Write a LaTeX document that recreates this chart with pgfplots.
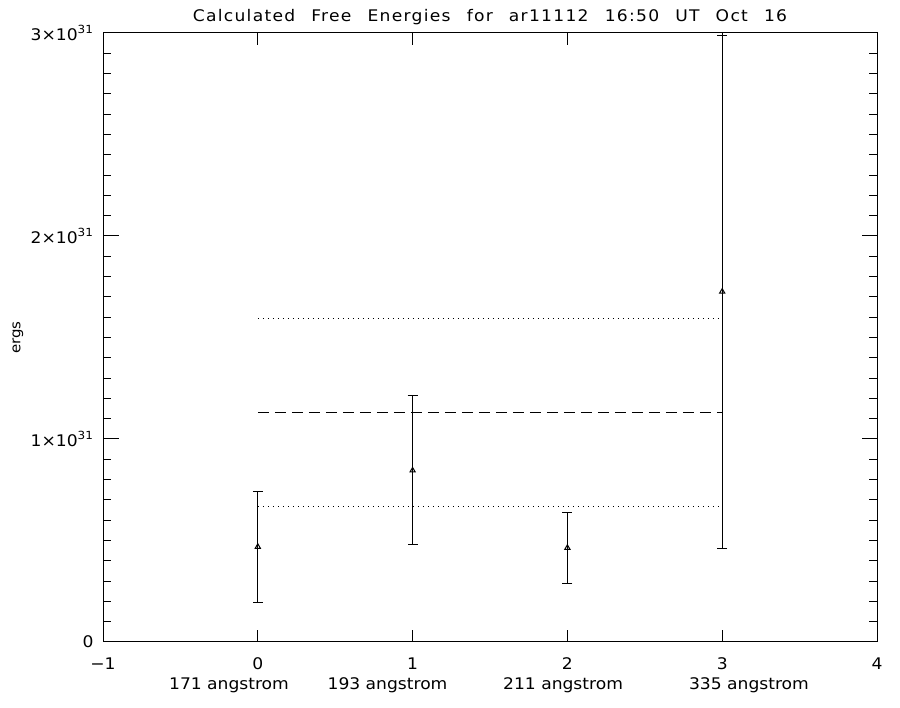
\documentclass[border=0pt]{standalone}
\usepackage{fontspec}
\setmainfont[FakeStretch=1.07]{DejaVu Sans}
\newfontfamily\titlefont[FakeStretch=1.07,LetterSpace=8,WordSpace=2.4]{DejaVu Sans}
\usepackage{pgfplots}
\pgfplotsset{compat=1.18}
\pgfplotsset{
  base/.style={
    at={(103pt,66pt)}, anchor=south west, scale only axis,
    width=774pt, height=609pt,
    xmin=-1, xmax=4, ymin=0, ymax=3,
    axis line style={line width=1pt, black},
    tick style={line width=1pt, black},
    tick align=inside,
    ticklabel style={font=\fontsize{16}{27}\selectfont, black},
  }
}
\begin{document}
\begin{tikzpicture}[x=1pt,y=1pt]
\useasboundingbox (0,0) rectangle (900,708);
% y axis with its ticks
\begin{axis}[base,
  xtick=\empty,
  ytick={0,1,2,3},
  yticklabels={0, 1×10\textsuperscript{31}, 2×10\textsuperscript{31}, 3×10\textsuperscript{31}},
  minor y tick num=9,
  major tick length=15.5pt,
  minor tick length=8pt,
  yticklabel style={xshift=-6pt},
]
\end{axis}
% x axis and data
\begin{axis}[base,
  ytick=\empty,
  xtick={-1,0,1,2,3,4},
  xticklabels={−1,0,1,2,3,4},
  xticklabel style={yshift=-12pt},
  major tick length=12pt,
  title={Calculated Free Energies for ar11112 16:50 UT Oct 16},
  title style={font=\titlefont\fontsize{16}{20}\selectfont, at={(axis description cs:0.5,1)}, anchor=base, yshift=5pt},
  ylabel={ergs},
  ylabel style={font=\fontsize{14}{18}\selectfont, at={(axis description cs:-0.1098,0.5)}, anchor=center},
  clip=false,
]
\addplot[black, line width=1pt, dash pattern=on 11pt off 6pt] coordinates {(0,1.131) (3,1.131)};
\addplot[black, line width=1pt, dash pattern=on 1pt off 4pt] coordinates {(0,1.596) (3,1.596)};
\addplot[black, line width=1pt, dash pattern=on 1pt off 4pt] coordinates {(0,0.666) (3,0.666)};
\addplot[black, line width=1pt, only marks, mark=triangle, mark size=3pt,
  mark options={solid, line width=1pt},
  error bars/.cd, y dir=both, y explicit,
  error bar style={line width=1pt, black},
  error mark options={black, rotate=90, mark size=5pt, line width=1pt}]
  coordinates {
  (0,0.469) +- (0,0.273)
  (1,0.845) +- (0,0.367)
  (2,0.464) +- (0,0.175)
  (3,1.726) +- (0,1.263)
  };
\node[anchor=base, font=\fontsize{16}{20}\selectfont, yshift=-48pt] at (axis cs:-0.186,0) {171 angstrom};
\node[anchor=base, font=\fontsize{16}{20}\selectfont, yshift=-48pt] at (axis cs:0.838,0) {193 angstrom};
\node[anchor=base, font=\fontsize{16}{20}\selectfont, yshift=-48pt] at (axis cs:1.972,0) {211 angstrom};
\node[anchor=base, font=\fontsize{16}{20}\selectfont, yshift=-48pt] at (axis cs:3.173,0) {335 angstrom};
\end{axis}
\end{tikzpicture}
\end{document}
